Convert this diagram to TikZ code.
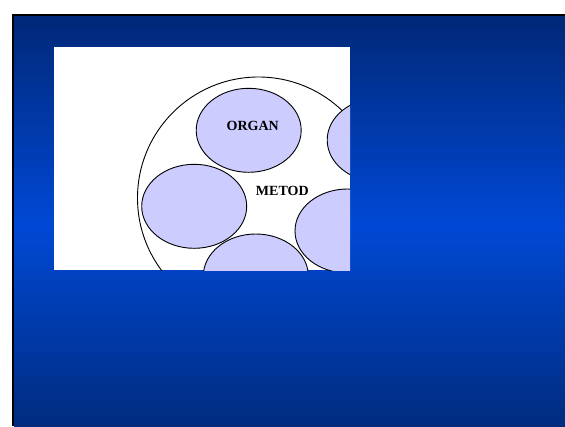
\documentclass[tikz,border=0pt]{standalone}
\usepackage{fontspec}
\setmainfont{Liberation Serif}
\usetikzlibrary{shapes.geometric}
\definecolor{navytop}{RGB}{0,40,120}
\definecolor{bluemid}{RGB}{0,72,212}
\definecolor{navybot}{RGB}{0,44,128}
\definecolor{lav}{RGB}{204,204,255}
\tikzset{
  petal/.style={ellipse, draw=black, line width=0.9pt, fill=lav, minimum width=105pt, minimum height=84pt, inner sep=0pt},
  lbl/.style={font=\fontsize{14}{16}\selectfont\bfseries, inner sep=0pt}
}
\begin{document}
\begin{tikzpicture}[x=1pt,y=-1pt]
\useasboundingbox (0,0) rectangle (565,426);
\fill[white] (0,0) rectangle (565,426);
\fill[black] (12,14) rectangle (565,426);
% upper half of gradient: y 16 -> 226
\foreach \i in {0,...,69} {
  \pgfmathsetmacro{\p}{\i/69*100}
  \pgfmathsetmacro{\ya}{16+\i*3}
  \fill[bluemid!\p!navytop] (14,\ya) rectangle (565,\ya+3.6);
}
% lower half: y 226 -> 426
\foreach \i in {0,...,66} {
  \pgfmathsetmacro{\p}{\i/66*100}
  \pgfmathsetmacro{\ya}{226+\i*3}
  \fill[navybot!\p!bluemid] (14,\ya) rectangle (565,\ya+3.6);
}
\fill[white] (54,47) rectangle (350,270);
\begin{scope}
\clip (54,47) rectangle (350,270);
\node[circle, draw=black, line width=0.9pt, minimum size=242pt, inner sep=0pt] (big) at (258.5,198) {};
\node[petal] (organ) at (248.7,130.3) {};
\node[petal] (left) at (194.2,206.3) {};
\node[petal] (bottom) at (255.8,276) {};
\node[petal] (rup) at (379.7,140) {};
\node[petal] (rlow) at (347.5,231) {};
\node[lbl] (organtxt) at (252.7,126) {ORGAN};
\node[lbl] (metod) at (282.3,191) {METOD};
\end{scope}
\end{tikzpicture}
\end{document}
